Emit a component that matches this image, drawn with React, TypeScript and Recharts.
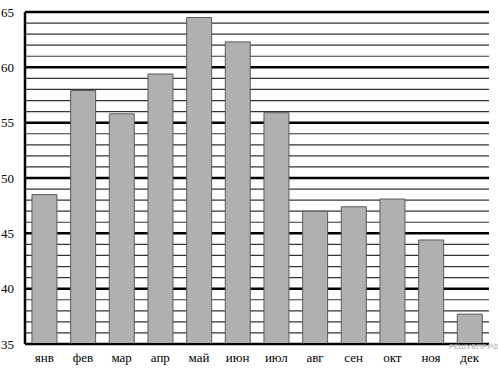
import { BarChart, Bar, XAxis, YAxis, CartesianGrid } from 'recharts'

const months = ['янв', 'фев', 'мар', 'апр', 'май', 'июн', 'июл', 'авг', 'сен', 'окт', 'ноя', 'дек']
const values = [48.5, 57.9, 55.8, 59.4, 64.5, 62.3, 55.9, 47.0, 47.4, 48.1, 44.4, 37.7]
const yTicks = [35, 40, 45, 50, 55, 60, 65]

const data = months.map((m, i) => ({ month: m, value: values[i] }))

const W = 498
const H = 372
const TOP = 12
const XAXIS_H = 28
const PLOT_H = H - TOP - XAXIS_H
const Y_MIN = 35
const Y_MAX = 65
const FONT = "'Times New Roman', 'Liberation Serif', 'DejaVu Serif', serif"

// one grid line per unit, heavy every 5
function GridLine(props: any) {
  const { x1, x2, y1 } = props
  const v = Math.round(Y_MAX - ((y1 - TOP) / PLOT_H) * (Y_MAX - Y_MIN))
  const major = v % 5 === 0
  return (
    <line
      x1={x1}
      x2={x2}
      y1={y1}
      y2={y1}
      stroke={major ? '#000' : '#333'}
      strokeWidth={major ? 2.5 : 1.2}
    />
  )
}

const gridPoints = Array.from({ length: Y_MAX - Y_MIN + 1 }, (_, i) => TOP + (PLOT_H * i) / (Y_MAX - Y_MIN))

function Tick(props: any) {
  const { x, y, payload, textAnchor, dy } = props
  return (
    <text x={x} y={y} dy={dy} textAnchor={textAnchor} fill="#000" fontSize={13} style={{ fontFamily: FONT }}>
      {payload.value}
    </text>
  )
}

export default function App() {
  return (
    <div style={{ position: 'absolute', left: 0, top: 0, width: W, height: H, background: '#fff', fontFamily: FONT }}>
      <BarChart width={W} height={H} data={data} margin={{ top: TOP, right: 9, bottom: 0, left: 0 }} barCategoryGap="18%">
        <CartesianGrid vertical={false} horizontal={GridLine} horizontalPoints={gridPoints} />
        <XAxis
          dataKey="month"
          height={XAXIS_H}
          tickLine={false}
          axisLine={{ stroke: '#000', strokeWidth: 2 }}
          tick={(p: any) => <Tick {...p} dy={10} />}
          interval={0}
        />
        <YAxis
          width={25}
          domain={[Y_MIN, Y_MAX]}
          ticks={yTicks}
          tickLine={false}
          axisLine={{ stroke: '#000', strokeWidth: 2.5 }}
          tick={(p: any) => <Tick {...p} dy={4.5} />}
          tickMargin={5}
        />
        <Bar dataKey="value" fill="#b0b0b0" stroke="#5a5a5a" strokeWidth={1} isAnimationActive={false} />
      </BarChart>
      <div
        style={{
          position: 'absolute',
          left: 449,
          top: 343,
          fontFamily: 'Roboto, sans-serif',
          fontSize: 8,
          lineHeight: '8px',
          color: '#b0b0b0',
          whiteSpace: 'nowrap',
        }}
      >
        РЕШУВПР.РФ
      </div>
    </div>
  )
}
